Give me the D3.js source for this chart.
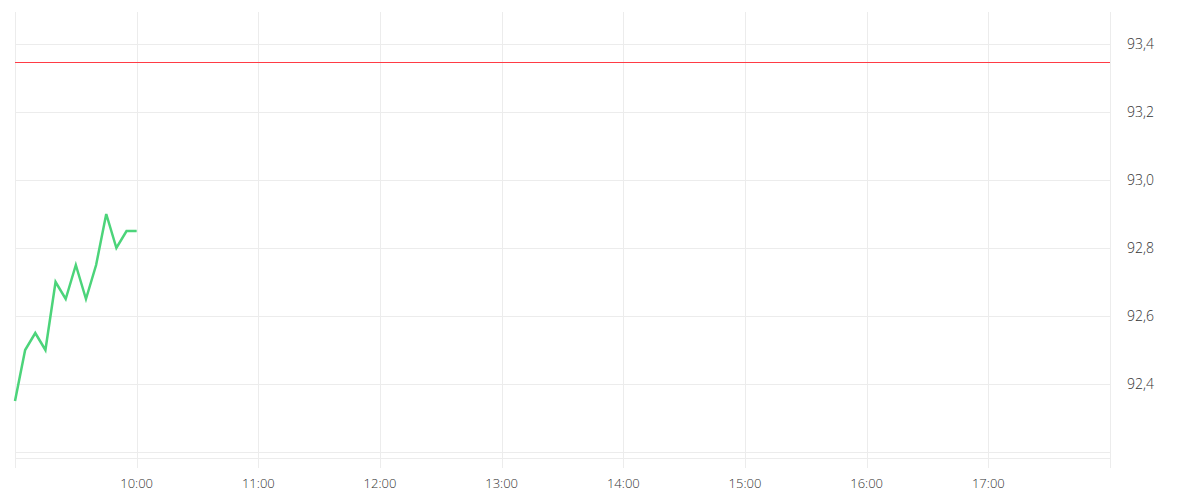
<!DOCTYPE html>
<html>
<head>
<meta charset="utf-8">
<script src="https://cdn.jsdelivr.net/npm/d3@7"></script>
<style>
  body { margin: 0; background: #fff; }
  .grid line { stroke: #ececec; stroke-width: 1; }
  .yax text { font-family: "Open Sans", sans-serif; font-weight: 300; font-size: 14px; fill: #333; }
  .xax text { font-family: "Open Sans", sans-serif; font-weight: 300; font-size: 13px; fill: #333; }
</style>
</head>
<body>
<svg width="1200" height="500"></svg>
<script>
// price points every 5 minutes from 09:00
const times = ['09:00','09:05','09:10','09:15','09:20','09:25','09:30','09:35','09:40','09:45','09:50','09:55','10:00'];
const prices = [92.35, 92.5, 92.55, 92.5, 92.7, 92.65, 92.75, 92.65, 92.75, 92.9, 92.8, 92.85, 92.85];
const refPrice = 93.345; // red reference line
const yTicks = [92.2, 92.4, 92.6, 92.8, 93.0, 93.2, 93.4];
const hourTicks = ['09:00','10:00','11:00','12:00','13:00','14:00','15:00','16:00','17:00','18:00'];

const parse = d3.timeParse('%H:%M');
const svg = d3.select('svg');

const plotLeft = 15, plotRight = 1110, plotTop = 12, plotBottom = 458;

const x = d3.scaleTime()
  .domain([parse('09:00'), parse('18:00')])
  .range([plotLeft, plotRight]);

// 92.2 sits at y=452, 93.4 at y=44
const y = d3.scaleLinear()
  .domain([92.2, 93.4])
  .range([452, 44]);

// vertical grid
svg.append('g').attr('class', 'grid')
  .selectAll('line')
  .data(hourTicks)
  .enter().append('line')
  .attr('x1', d => Math.round(x(parse(d))) + 0.5)
  .attr('x2', d => Math.round(x(parse(d))) + 0.5)
  .attr('y1', plotTop)
  .attr('y2', 468)

// horizontal grid
svg.append('g').attr('class', 'grid')
  .selectAll('line')
  .data(yTicks)
  .enter().append('line')
  .attr('x1', plotLeft)
  .attr('x2', plotRight)
  .attr('y1', d => Math.round(y(d)) + 0.5)
  .attr('y2', d => Math.round(y(d)) + 0.5)

// bottom edge of plot
svg.append('line')
  .attr('x1', plotLeft).attr('x2', plotRight)
  .attr('y1', plotBottom + 0.5).attr('y2', plotBottom + 0.5)
  .attr('stroke', '#ececec')

// y labels on the right (skip the bottom one)
svg.append('g').attr('class', 'yax')
  .selectAll('text')
  .data(yTicks.filter(d => d > 92.3))
  .enter().append('text')
  .attr('x', 1127)
  .attr('y', d => y(d) + 5)
  .text(d => d.toFixed(1).replace('.', ','))

// x labels (inner hours only)
svg.append('g').attr('class', 'xax')
  .selectAll('text')
  .data(hourTicks.slice(1, -1))
  .enter().append('text')
  .attr('x', d => x(parse(d)))
  .attr('y', 488)
  .attr('text-anchor', 'middle')
  .text(d => d)

// reference line
svg.append('line')
  .attr('x1', plotLeft).attr('x2', plotRight)
  .attr('y1', Math.floor(y(refPrice)) + 0.5).attr('y2', Math.floor(y(refPrice)) + 0.5)
  .attr('stroke', '#ff3b45')
  .attr('stroke-width', 1)

// price line
const line = d3.line()
  .x((d, i) => x(parse(times[i])))
  .y(d => y(d))

svg.append('path')
  .datum(prices)
  .attr('d', line)
  .attr('fill', 'none')
  .attr('stroke', '#4cd47a')
  .attr('stroke-width', 2.5)
  .attr('stroke-linejoin', 'miter')
</script>
</body>
</html>
